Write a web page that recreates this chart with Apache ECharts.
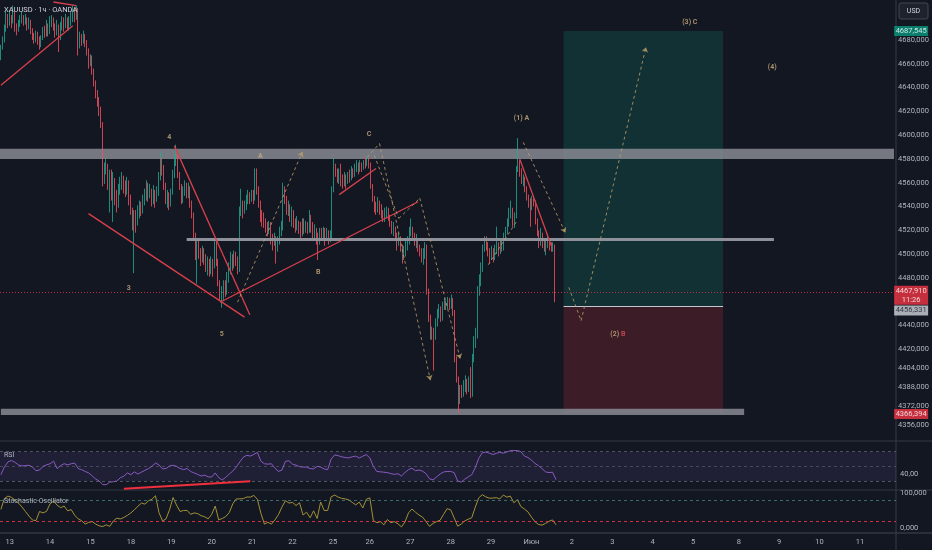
<!DOCTYPE html>
<html><head><meta charset="utf-8">
<script src="https://cdn.jsdelivr.net/npm/echarts@6/dist/echarts.min.js"></script>
<style>html,body{margin:0;padding:0;background:#131722;}#c{width:932px;height:550px;}</style>
</head><body><div id="c"></div>
<script>
// ---------- DATA ----------
const symbolTitle = 'XAUUSD · 1ч · OANDA';
const countdown = '11:26';
const firstOpen = 4665;
const closes = [
4673,4680,4688,4697,4694,4699,4695,4702,4690,4688,
4694,4697,4699,4695,4698,4692,4695,4688,4683,4680,
4685,4682,4677,4682,4688,4684,4690,4687,4694,4697,
4691,4686,4692,4684,4690,4695,4692,4697,4690,4695,
4699,4704,4700,4705,4676,4682,4678,4683,4678,4670,
4661,4665,4655,4645,4636,4630,4621,4609,4560,4571,
4574,4558,4564,4552,4560,4550,4541,4554,4558,4564,
4557,4554,4560,4549,4537,4527,4534,4528,4535,4540,
4537,4545,4549,4557,4549,4554,4545,4552,4545,4550,
4564,4577,4572,4557,4545,4549,4542,4552,4565,4577,
4581,4566,4557,4547,4552,4557,4550,4555,4542,4533,
4516,4505,4508,4502,4495,4503,4496,4490,4493,4486,
4493,4488,4508,4493,4476,4464,4468,4475,4470,4481,
4486,4496,4491,4500,4493,4488,4535,4542,4535,4540,
4545,4549,4545,4550,4547,4565,4554,4542,4533,4530,
4527,4523,4520,4525,4513,4510,4515,4507,4512,4518,
4523,4554,4545,4537,4540,4532,4535,4527,4523,4527,
4522,4518,4527,4522,4525,4520,4530,4523,4517,4520,
4513,4512,4518,4515,4520,4515,4518,4513,4515,4554,
4574,4569,4564,4567,4562,4559,4564,4560,4565,4564,
4569,4567,4572,4574,4571,4576,4572,4576,4574,4579,
4576,4557,4547,4540,4537,4544,4539,4533,4530,4535,
4537,4532,4527,4520,4522,4515,4510,4513,4505,4498,
4502,4507,4510,4517,4522,4515,4510,4512,4505,4502,
4496,4500,4507,4470,4446,4431,4434,4431,4441,4449,
4453,4446,4456,4459,4456,4459,4458,4463,4451,4412,
4395,4379,4387,4384,4389,4392,4385,4390,4382,4411,
4426,4432,4468,4476,4486,4503,4512,4507,4502,4498,
4502,4496,4503,4507,4502,4508,4505,4513,4520,4525,
4533,4537,4527,4532,4569,4577,4569,4562,4564,4555,
4549,4542,4540,4545,4544,4528,4518,4508,4515,4512,
4505,4508,4512,4508,4505,4507,4467.91];
const highs = [
4676,4683,4693,4704,4702,4705,4701,4709,4704,4694,
4697,4701,4704,4701,4702,4699,4699,4697,4690,4686,
4688,4687,4683,4684,4691,4692,4697,4694,4700,4701,
4699,4694,4697,4693,4695,4700,4699,4702,4699,4700,
4704,4709,4707,4709,4707,4687,4685,4688,4685,4680,
4673,4668,4667,4656,4646,4638,4632,4624,4611,4577,
4581,4576,4571,4571,4569,4564,4554,4559,4565,4569,
4566,4562,4565,4562,4550,4539,4537,4537,4541,4545,
4544,4550,4555,4562,4560,4559,4555,4558,4554,4557,
4569,4586,4581,4575,4560,4554,4552,4555,4571,4583,
4592,4587,4569,4559,4557,4562,4560,4560,4557,4545,
4535,4518,4513,4512,4505,4507,4505,4500,4498,4496,
4498,4496,4513,4512,4496,4478,4473,4478,4478,4485,
4493,4502,4500,4503,4502,4498,4540,4555,4545,4545,
4550,4554,4552,4554,4554,4572,4572,4557,4545,4537,
4535,4530,4527,4528,4527,4517,4518,4515,4515,4523,
4528,4560,4557,4549,4545,4542,4540,4537,4530,4532,
4528,4527,4530,4530,4528,4527,4537,4533,4527,4525,
4522,4518,4522,4522,4523,4522,4522,4520,4520,4557,
4581,4576,4572,4572,4576,4567,4569,4567,4569,4571,
4574,4572,4576,4579,4577,4579,4577,4579,4581,4582,
4581,4577,4559,4549,4544,4548,4545,4542,4537,4539,
4540,4539,4533,4528,4527,4523,4518,4518,4515,4508,
4507,4512,4515,4523,4530,4523,4518,4517,4513,4508,
4505,4505,4510,4508,4471,4449,4439,4438,4446,4454,
4458,4456,4460,4463,4461,4464,4463,4466,4463,4453,
4414,4397,4390,4390,4394,4398,4395,4397,4405,4416,
4431,4438,4473,4483,4493,4508,4515,4515,4510,4505,
4507,4505,4508,4523,4510,4513,4512,4518,4523,4530,
4539,4545,4539,4535,4574,4597.6,4579,4572,4567,4565,
4557,4550,4547,4549,4549,4545,4530,4520,4522,4518,
4513,4512,4517,4513,4510,4510,4508];
const lows = [
4663,4672,4678,4687,4690,4692,4690,4694,4687,4684,
4687,4691,4694,4692,4693,4688,4689,4685,4680,4677,
4678,4676,4672,4674,4680,4682,4683,4683,4685,4691,
4688,4682,4684,4670,4680,4688,4687,4690,4688,4688,
4692,4695,4695,4697,4667,4673,4675,4677,4674,4667,
4656,4658,4651,4641,4631,4624,4616,4606,4557,4559,
4567,4554,4535,4545,4527,4541,4535,4539,4550,4554,
4551,4548,4550,4541,4533,4520,4484,4518,4524,4530,
4532,4534,4541,4545,4544,4547,4540,4542,4539,4544,
4549,4562,4566,4554,4542,4539,4537,4540,4550,4564,
4574,4564,4554,4542,4543,4549,4547,4547,4539,4530,
4512,4495,4475,4496,4490,4493,4491,4485,4482,4481,
4483,4481,4488,4490,4473,4461,4455,4461,4464,4466,
4476,4483,4486,4488,4490,4483,4485,4532,4530,4534,
4537,4542,4542,4544,4542,4545,4550,4539,4527,4523,
4522,4518,4515,4517,4508,4503,4507,4492,4502,4508,
4515,4520,4542,4533,4532,4527,4523,4522,4518,4520,
4517,4512,4515,4517,4518,4517,4518,4518,4513,4513,
4508,4495,4508,4512,4513,4507,4512,4508,4510,4513,
4552,4565,4560,4559,4557,4555,4557,4555,4559,4560,
4562,4564,4565,4569,4567,4569,4569,4571,4572,4574,
4572,4555,4544,4535,4533,4535,4533,4530,4527,4527,
4530,4528,4523,4517,4515,4512,4503,4507,4502,4492,
4495,4498,4503,4508,4515,4512,4507,4505,4502,4498,
4493,4491,4496,4466,4443,4428,4428,4402,4428,4439,
4446,4443,4444,4453,4453,4454,4453,4454,4448,4409,
4392,4366.39,4374,4379,4380,4384,4382,4384,4379,4380,
4409,4421,4429,4465,4473,4485,4502,4503,4498,4492,
4495,4493,4495,4500,4498,4500,4502,4503,4512,4517,
4523,4530,4523,4522,4530,4569,4565,4559,4557,4552,
4545,4539,4523,4537,4540,4525,4515,4505,4507,4505,
4502,4499,4505,4503,4502,4502,4459.5];
// RSI and Stochastic, one reading every 2 bars
const rsiEvery2 = [38.6,49,56,58,55.5,52,50.5,51,51.5,49,44,45,50,52,53.5,57,47,51,53.6,52,
53.5,54.5,47,45.5,43,41,37,32.5,30,25,25,28.5,29,30,34.5,36.5,41,38.6,42.5,39.5,
42,44.5,47,50,54.5,52,46.5,47,50.5,51.5,50,47,45.5,47,43,41,39,36.8,38,35.5,
35.5,41,34.5,31.5,35,39.5,43.5,49,56,62.5,65,64,66.3,69,57,53.5,53,53.5,47.5,43,
45,57,57.5,53,51.5,49.5,49,49,47,46.5,50,49,46.4,45.5,60,65.5,64.5,63,62,61.5,
63,64,61.3,63.8,66,61.5,50,43,42.5,42,41.5,40,39,40,36.8,41.5,45.5,47.5,44,45,
43.5,40,33,31.5,35.5,39.5,42.3,43,43,41.5,30,28.5,32.5,35.5,38.5,48,61,68.5,69.5,68,
66,67.8,69,68,69.5,71.5,71.5,71.5,70,64,62,58.5,54,51,47,42.5,41.5,42,31.8];
const stochEvery2 = [54,85,92,88.5,81,72,61,48,35,23.5,22,48,44,48.5,70,78,66,59,63.5,50,
53.5,37.5,27,21.5,12,17,19,12,7,5,10,5.5,21,29,26.5,31,37,44,53,63,
72,69,78.5,83,93,45,21,27,53,88,66,48,51,51,40,44,42,36,33,27,
40,63.5,24,28,33.5,45,70,84,84,85,89.5,89,94,83,43,12,17,12,24,39,
61,79,72,74,65,73,38,46,30,50,28,75,51,51,90,95,89,85.5,84,81.5,
74,67,75,58,83,87,22,16,19,10,25,16,19,13,4,18,44,55,46,38,
32,19,5.5,14,19,23,40,56,53,30,6,12,21,26,30,60,87,96,90,86,
86.5,87.5,84,95,89,92,73,82,62,55,47,32,19,11,9,14,20,24,10];
const preBars = 5;
const dayLabels = ['13','14','15','18','19','20','21','22','25','26','27','28','29','Июн','2','3','4','5','8','9','10','11'];
const dayBars   = [23,23,23,23,23,23,23,23,21,23,23,23,23,23,23,23,23,26,23,23,23,21];
const priceTicks = [4356,4372,4388,4404,4420,4440,4480,4500,4520,4540,4560,4580,4600,4620,4640,4660,4680];
const rsiTicks = [40];
const stochTicks = [0,100];
const tpPrice = 4687.545, entryPrice = 4456.331, stopPrice = 4366.394, lastPrice = 4467.910;
const positionBars = [321, 412];
const resistBand = [4580, 4588.5];
const supportBand = [4364.6, 4370];
const supportBandEnd = 424;
const midLevel = [106, 441, 4512.5];
const redLines = [
 [[0,4642],[41,4692]], [[30,4712],[43,4709]], [[50,4534],[139,4447]], [[99,4591],[142,4449]],
 [[125,4459.5],[238,4544]], [[193,4550],[214,4572]], [[296,4580],[314,4507]]];
const pathLines = [
 [[135,4459.5],[172,4586],1], [[209,4581.5],[216,4593],0], [[216,4593],[245,4394],1],
 [[213,4583],[227,4530],0], [[227,4530],[239,4547],0], [[239,4547],[262,4412],1],
 [[278,4491],[294,4527],0], [[298,4594],[322,4518],1], [[324,4472],[331,4444],0],
 [[331,4444],[368,4674],1]];
const waveLabels = [
 ['4',96,4598], ['A',148,4582.5], ['3',73,4471], ['5',126,4433], ['B',181,4485],
 ['C',210,4601], ['(1) A',297,4614], ['(2) |B',352,4433], ['(3) C',393,4695], ['(4)',440,4657]];
const rsiDiv = [[70,19.5],[142,29.5]];

// ---------- BUILD ----------
const cats = [];
for (let i = 0; i < preBars; i++) cats.push('#' + cats.length);
dayLabels.forEach((d, j) => { cats.push(d); for (let k = 1; k < dayBars[j]; k++) cats.push('#' + cats.length); });
const last = cats.length - 1;
const candles = closes.map((c, i) => {
  const o = i === 0 ? firstOpen : closes[i - 1];
  return [o, c, Math.min(lows[i], o, c), Math.max(highs[i], o, c)];
});
const fmt = (v, d) => v.toFixed(d).replace('.', ',');
const TAN = '#c9ad7f', RED = '#f23645', TEAL = '#089981';
const axisFont = { color: '#b2b5be', fontSize: 7.5, fontFamily: 'Roboto' };

const chart = echarts.init(document.getElementById('c'), null, { renderer: 'canvas' });
const xBase = (gi, showLabels) => ({
  type: 'category', gridIndex: gi, data: cats, boundaryGap: true,
  axisLine: { show: false }, axisTick: { show: false }, splitLine: { show: false },
  axisLabel: showLabels ? Object.assign({ show: true, margin: 5, interval: (idx, v) => v[0] !== '#',
    formatter: v => v[0] === '#' ? '' : v }, axisFont) : { show: false }
});
const yBase = (gi, min, max, interval, ticks, dec) => ({
  type: 'value', gridIndex: gi, position: 'right', min, max, interval, scale: true,
  axisLine: { show: false }, axisTick: { show: false }, splitLine: { show: false },
  axisLabel: Object.assign({ margin: 4, align: 'left', showMinLabel: true, showMaxLabel: true,
    formatter: v => ticks.includes(v) ? fmt(v, dec) : '' }, axisFont)
});

const redML = redLines.map(l => [{ coord: l[0], lineStyle: { color: '#d9404c', width: 1.3, type: 'solid' } }, { coord: l[1] }]);
const pathML = pathLines.map(l => [{ coord: l[0], symbol: 'none', lineStyle: { color: 'rgba(190,160,105,0.8)', width: 1, type: [3, 3] } },
  { coord: l[1], symbol: l[2] ? 'arrow' : 'none', symbolSize: 5 }]);
const midML = [[{ coord: [midLevel[0], midLevel[2]], lineStyle: { color: '#8e9199', width: 3, type: 'solid' } }, { coord: [midLevel[1], midLevel[2]] }]];
const entryML = [[{ coord: [positionBars[0], entryPrice], lineStyle: { color: '#c5c8d0', width: 1, type: 'solid' } }, { coord: [positionBars[1], entryPrice] }]];
const lastML = [{ yAxis: lastPrice, lineStyle: { color: RED, width: 1, type: [1, 2], opacity: 0.75 } }];

const tag = (price, text, bg, fg, h, dy) => ({
  value: [last, price], symbol: 'rect', symbolSize: [34, h], symbolOffset: [18, dy],
  itemStyle: { color: bg }, label: { show: true, position: 'inside', formatter: text, color: fg, fontSize: 7.5, lineHeight: 9, fontFamily: 'Roboto' }
});

const option = {
  backgroundColor: '#131722', animation: false,
  grid: [
    { left: 0, right: 36, top: 2, height: 437.6 },
    { left: 0, right: 36, top: 441.4, height: 48.4 },
    { left: 0, right: 36, top: 490.15, height: 42.7 }
  ],
  xAxis: [xBase(0, false), xBase(1, false), xBase(2, true)],
  yAxis: [yBase(0, 4344, 4712, 4, priceTicks, 3), yBase(1, 18, 84, 2, rsiTicks, 2), yBase(2, -13, 109, 1, stochTicks, 3)],
  graphic: [
    { type: 'line', shape: { x1: 0, y1: 441, x2: 932, y2: 441 }, style: { stroke: '#2a2e39', lineWidth: 1.5 } },
    { type: 'line', shape: { x1: 0, y1: 490, x2: 932, y2: 490 }, style: { stroke: '#2a2e39', lineWidth: 1.5 } },
    { type: 'line', shape: { x1: 0, y1: 533, x2: 932, y2: 533 }, style: { stroke: '#434651', lineWidth: 1 } },
    { type: 'line', shape: { x1: 896, y1: 0, x2: 896, y2: 550 }, style: { stroke: '#363a45', lineWidth: 1 } },
    { type: 'rect', shape: { x: 899, y: 3, width: 29, height: 16, r: 2 }, style: { fill: '#1e222d', stroke: '#434651', lineWidth: 1 } },
    { type: 'text', x: 913.5, y: 11, style: { text: 'USD', fill: '#d1d4dc', fontSize: 7, fontFamily: 'Roboto', align: 'center', verticalAlign: 'middle' } },
    { type: 'text', x: 4, y: 10, z: 100, style: { text: symbolTitle, fill: '#d1d4dc', fontSize: 7.5, fontFamily: 'Roboto', verticalAlign: 'middle' } },
    { type: 'text', x: 4, y: 455, z: 100, style: { text: 'RSI', fill: '#b2b5be', fontSize: 7, fontFamily: 'Roboto', verticalAlign: 'middle' } },
    { type: 'text', x: 4, y: 501, z: 100, style: { text: 'Stochastic Oscillator', fill: '#b2b5be', fontSize: 7, fontFamily: 'Roboto', verticalAlign: 'middle' } }
  ],
  series: [
    {
      type: 'candlestick', xAxisIndex: 0, yAxisIndex: 0, data: candles, barWidth: 1.3,
      itemStyle: { color: '#22ab94', color0: '#f7525f', borderColor: '#22ab94', borderColor0: '#f7525f', borderWidth: 0.8 },
      markArea: {
        silent: true,
        data: [
          [{ coord: [positionBars[0], entryPrice], itemStyle: { color: 'rgba(8,153,129,0.2)' } }, { coord: [positionBars[1], tpPrice] }],
          [{ coord: [positionBars[0], stopPrice], itemStyle: { color: 'rgba(242,54,69,0.18)' } }, { coord: [positionBars[1], entryPrice] }],
          [{ yAxis: resistBand[0], itemStyle: { color: 'rgba(140,142,150,0.82)', borderWidth: 0 } }, { yAxis: resistBand[1] }],
          [{ coord: [0, supportBand[0]], itemStyle: { color: 'rgba(140,142,150,0.82)' } }, { coord: [supportBandEnd, supportBand[1]] }]
        ]
      },
      markLine: {
        silent: true, symbol: ['none', 'none'], label: { show: false },
        data: [].concat(midML, entryML, redML, pathML, lastML)
      }
    },
    {
      type: 'scatter', xAxisIndex: 0, yAxisIndex: 0, clip: false, silent: true, symbolSize: 1,
      itemStyle: { color: 'rgba(0,0,0,0)' }, z: 5,
      data: waveLabels.map(w => ({
        value: [w[1], w[2]],
        label: {
          show: true, position: 'inside',
          formatter: w[0].indexOf('|') >= 0 ? '{t|' + w[0].split('|')[0] + '}{r|' + w[0].split('|')[1] + '}' : '{t|' + w[0] + '}',
          rich: { t: { color: TAN, fontSize: 7, fontWeight: 'bold', fontFamily: 'Roboto' }, r: { color: '#e0505c', fontSize: 7, fontWeight: 'bold', fontFamily: 'Roboto' } }
        }
      }))
    },
    {
      type: 'scatter', xAxisIndex: 0, yAxisIndex: 0, clip: false, silent: true, z: 10,
      data: [
        tag(tpPrice, fmt(tpPrice, 3), TEAL, '#ffffff', 10, 0),
        tag(lastPrice, fmt(lastPrice, 3) + '\n' + countdown, RED, '#ffffff', 19, 3),
        tag(entryPrice, fmt(entryPrice, 3), '#d1d4dc', '#131722', 10, 4.5),
        tag(stopPrice, fmt(stopPrice, 3), RED, '#ffffff', 10, 1)
      ]
    },
    {
      type: 'line', xAxisIndex: 1, yAxisIndex: 1, showSymbol: false, silent: true,
      data: rsiEvery2.map((v, k) => [2 * k, v]),
      lineStyle: { color: '#8a5bc2', width: 1 },
      markArea: { silent: true, data: [[{ yAxis: 30, itemStyle: { color: 'rgba(126,87,194,0.12)' } }, { yAxis: 70 }]] },
      markLine: {
        silent: true, symbol: ['none', 'none'], label: { show: false },
        data: [
          { yAxis: 70, lineStyle: { color: 'rgba(120,123,134,0.6)', type: [3, 3], width: 1 } },
          { yAxis: 50, lineStyle: { color: 'rgba(120,123,134,0.45)', type: [3, 3], width: 1 } },
          { yAxis: 30, lineStyle: { color: 'rgba(120,123,134,0.6)', type: [3, 3], width: 1 } },
          [{ coord: rsiDiv[0], lineStyle: { color: '#f0303e', width: 2, type: 'solid' } }, { coord: rsiDiv[1] }]
        ]
      }
    },
    {
      type: 'line', xAxisIndex: 2, yAxisIndex: 2, showSymbol: false, silent: true,
      data: stochEvery2.map((v, k) => [2 * k, v]),
      lineStyle: { color: '#a39237', width: 1 },
      markLine: {
        silent: true, symbol: ['none', 'none'], label: { show: false },
        data: [
          { yAxis: 80, lineStyle: { color: 'rgba(70,130,120,0.8)', type: [3, 3], width: 1 } },
          { yAxis: 20, lineStyle: { color: 'rgba(242,54,69,0.85)', type: [3, 3], width: 1 } }
        ]
      }
    }
  ]
};
chart.setOption(option);
</script></body></html>
